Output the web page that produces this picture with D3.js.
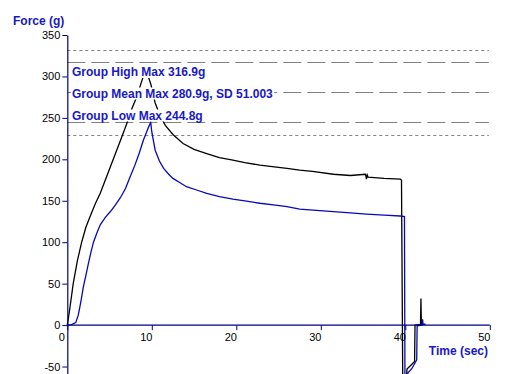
<!DOCTYPE html>
<html lang="en">
<head>
  <meta charset="utf-8">
  <title>Force vs time</title>
  <style>
    body { margin: 0; background: #fff; }
    svg { display: block; }
    text { font-family: Arial, "Liberation Sans", sans-serif; }
  </style>
</head>
<body>
  <script src="https://cdnjs.cloudflare.com/ajax/libs/d3/7.8.5/d3.min.js"></script>
  <svg></svg>
  <script>

// Sample 1 (black) - time in sec, force in g
var blackTime  = [0, 0.3, 0.7, 1.2, 1.7, 2.2, 2.7, 3.3, 3.9, 4.5, 5.1, 5.7, 6.3, 7.0, 7.6, 8.2, 8.8, 9.3,
                  9.9, 10.4, 11.0, 11.6, 12.5, 13.7, 15.0, 16.5, 18.0, 19.6, 21.0, 22.8, 24.5, 26.0, 27.5,
                  29.0, 31.5, 33.5, 35.3, 35.4, 35.5, 35.6, 37.5, 39.4, 39.55,
                  39.7, 40.1, 40.2, 40.6, 41.1, 41.15, 41.8, 41.85, 41.9, 42.0];
var blackForce = [0, 20, 50, 78, 100, 118, 131, 146, 159, 175, 191, 207, 223, 242, 260, 275, 294, 309,
                  290, 268, 252, 241, 230, 219, 212, 207, 202, 199, 196, 193, 191, 189, 187,
                  185.5, 182, 180.5, 182, 176, 181, 178.5, 177, 176, 175,
                  -70, -70, -53, -49, -44, 0, 1, 32, 1, 2];

// Sample 2 (blue)
var blueTime  = [0, 0.5, 1.0, 1.3, 1.6, 1.9, 2.2, 2.5, 2.8, 3.1, 3.5, 3.9, 4.5, 5.1, 5.7, 6.3, 6.9, 7.4,
                 8.0, 8.5, 9.0, 9.5, 9.87, 10.0, 10.2, 10.4, 10.9, 11.4, 12.0, 12.5, 13.3, 14.1, 15.3,
                 16.5, 18.0, 19.6, 21.2, 22.8, 24.4, 26.0, 27.5, 29.5, 31.5, 33.5, 35.4, 37.5, 39.4, 39.9,
                 39.96, 40.3, 40.8, 41.35, 41.4, 42.0, 42.05, 42.1, 42.4];
var blueForce = [0, 0.5, 3, 12, 28, 46, 60, 74.5, 88, 100, 111, 121, 130, 137, 145, 154, 165, 178,
                 193, 207, 223, 236, 244.8, 233, 222, 211, 198, 189, 182, 177, 172, 167, 163,
                 159, 155, 152, 149.5, 147, 145, 143, 140, 138.5, 137, 135.5, 134, 132.8, 131.6, 131,
                 -70, -58, -52, -42, -1, 0, 7, 1, 1];

// Group statistics
var groupHigh = 316.9, groupMean = 280.9, groupLow = 244.8, groupSD = 51.003;
var refValues = [groupMean + groupSD, groupHigh, groupMean, groupLow, groupMean - groupSD];
var refDash   = ['3,3', '18,6', '18,6', '18,6', '3,3'];
var refLabels = ['Group High Max 316.9g', 'Group Mean Max 280.9g, SD 51.003', 'Group Low Max 244.8g'];

var xTicks = [0, 10, 20, 30, 40, 50];
var yTicks = [-50, 0, 50, 100, 150, 200, 250, 300, 350];

var width = 523, height = 374;
var axisColor = '#000080', labelBlue = '#1818c4', traceBlue = '#0808b8';

var svg = d3.select('svg')
            .attr('width', width)
            .attr('height', height);

// Scales
var xScale = d3.scaleLinear().domain([0, 50]).range([67.3, 489.8]);
var yScale = d3.scaleLinear().domain([-59, 350]).range([374, 35]);

// Reference lines (mean +/- SD dotted, maxima dashed)
svg.append('g')
   .selectAll('line')
   .data(refValues)
   .enter()
   .append('line')
   .attr('x1', xScale(0))
   .attr('x2', xScale(50) - 1)
   .attr('y1', function(d) { return Math.round(yScale(d)) + 0.5; })
   .attr('y2', function(d) { return Math.round(yScale(d)) + 0.5; })
   .attr('stroke', '#808080')
   .attr('stroke-width', 1)
   .attr('stroke-dasharray', function(d, i) { return refDash[i]; });

// Traces
var line = d3.line()
             .x(function(d) { return xScale(d[0]); })
             .y(function(d) { return yScale(d[1]); });

svg.append('path')
   .datum(d3.zip(blackTime, blackForce))
   .attr('d', line)
   .attr('fill', 'none')
   .attr('stroke', '#000')
   .attr('stroke-width', 1.3);

svg.append('path')
   .datum(d3.zip(blueTime, blueForce))
   .attr('d', line)
   .attr('fill', 'none')
   .attr('stroke', traceBlue)
   .attr('stroke-width', 1.3);

// plain hyphen for negatives, like the original
var fmt = function(d) { return String(d); };

// Y axis
var yAxis = svg.append('g')
   .attr('transform', 'translate(' + xScale(0) + ',0)')
   .call(d3.axisLeft(yScale).tickValues(yTicks).tickFormat(fmt).tickSize(5).tickSizeOuter(0).tickPadding(2));

// X axis
var xAxis = svg.append('g')
   .attr('transform', 'translate(0,' + yScale(0) + ')')
   .call(d3.axisBottom(xScale).tickValues(xTicks).tickFormat(fmt).tickSize(5).tickSizeOuter(0).tickPadding(3));

[yAxis, xAxis].forEach(function(ax) {
  ax.select('.domain').attr('stroke', axisColor).attr('stroke-width', 1.2);
  ax.selectAll('.tick line').attr('stroke', axisColor);
  ax.selectAll('.tick text').attr('fill', '#000').attr('font-size', '11px')
    .attr('font-family', 'Arial, "Liberation Sans", sans-serif');
});
xAxis.selectAll('.tick text').attr('dx', '-6px');
xAxis.select('.domain').attr('d', 'M' + xScale(0) + ',0H' + xScale(50));

// Group labels with white boxes behind them
var labelY = [76, 97.5, 119.5];
var labels = svg.append('g');
refLabels.forEach(function(t, i) {
  var g = labels.append('g');
  var txt = g.append('text')
     .attr('x', 72)
     .attr('y', labelY[i])
     .attr('fill', labelBlue)
     .attr('font-size', '12px')
     .attr('font-weight', 'bold')
     .text(t);
  var bb = txt.node().getBBox();
  g.insert('rect', 'text')
   .attr('x', bb.x - 1)
   .attr('y', labelY[i] - 10)
   .attr('width', bb.width + 2)
   .attr('height', 12)
   .attr('fill', '#fff');
});

// Axis titles
svg.append('text')
   .attr('x', 13)
   .attr('y', 25)
   .attr('fill', labelBlue)
   .attr('font-size', '12px')
   .attr('font-weight', 'bold')
   .text('Force (g)');

svg.append('text')
   .attr('x', 488)
   .attr('y', 355)
   .attr('text-anchor', 'end')
   .attr('fill', labelBlue)
   .attr('font-size', '12px')
   .attr('font-weight', 'bold')
   .text('Time (sec)');

  </script>
</body>
</html>
